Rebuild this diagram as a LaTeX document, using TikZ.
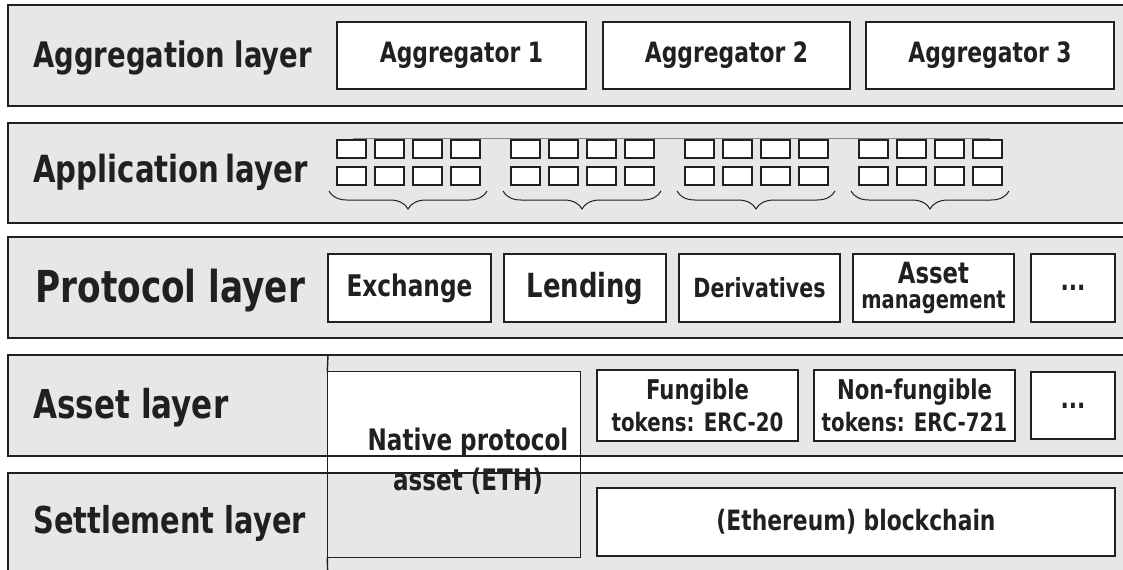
\documentclass[tikz,border=0pt]{standalone}
\usepackage{fontspec}
\setmainfont{DejaVu Sans}[FakeStretch=0.78]
\usetikzlibrary{calc,decorations.pathreplacing,positioning}
\definecolor{bandGray}{RGB}{230,231,232}
\definecolor{ink}{RGB}{35,31,32}

\begin{document}
\begin{tikzpicture}[x=0.5pt,y=-0.5pt,
  bandLine/.style={draw=ink,line width=0.7pt},
  box/.style={draw=ink,fill=white,line width=0.7pt,inner sep=0pt,align=center,text=ink},
  boxSize/.style 2 args={minimum width={(#1)*0.5pt},minimum height={(#2)*0.5pt}},
  cell/.style={draw=ink,fill=white,line width=0.6pt,inner sep=0pt,minimum width=14.5pt,minimum height=9pt},
  txt/.style={font=\fontsize{#1}{#1}\selectfont\bfseries},
  layerLabel/.style={anchor=base west,text=ink,inner sep=0pt,txt=#1}]

\useasboundingbox (0,0) rectangle (1123,569);
\clip (0,0) rectangle (1123,569);

% draw the aggregation layer
\fill[bandGray] (8,5) rectangle (1135,106);
\draw[bandLine] (8,5) rectangle (1135,106);
\node[layerLabel=17.6] (aggLabel) at (33,67) {Aggregation layer};
\def\aggregators{1/337/586,2/603/850,3/866/1114}
\foreach \n/\xl/\xr in \aggregators
  \node[box,boxSize={\xr-\xl}{67},txt=14] (agg\n) at ({(\xl+\xr)/2},55.5) {Aggregator \n};

% draw the application layer
\fill[bandGray] (8,123) rectangle (1135,223);
\draw[bandLine] (8,123) rectangle (1135,223);
\node[layerLabel=18.7] (appLabel) at (33,182) {Application\,layer};
\draw[ink!55,line width=0.4pt] (353,138) -- (990,138);
\foreach \g in {0,...,3}
{
  \pgfmathsetmacro\gx{337+174*\g}
  \foreach \c in {0,...,3}
    \foreach \r [count=\ri] in {149,176}
      \node[cell] (cell\g\c\ri) at ({\gx+38*\c+14.5},\r) {};
  \draw[ink,line width=0.5pt,decorate,decoration={brace,mirror,amplitude=9pt}] ({\gx-8},191) -- ({\gx+150},191);
}

% draw the protocol layer
\fill[bandGray] (8,237) rectangle (1135,338);
\draw[bandLine] (8,237) rectangle (1135,338);
\node[layerLabel=22] (protLabel) at (35,302) {Protocol layer};
\def\protocols{exch/328/491/{Exchange}/14.9,
               lend/504/666/{Lending}/16.6,
               deriv/679/840/{Derivatives}/13.2,
               mgmt/853/1014/{{\fontsize{14.6}{12.5}\selectfont Asset}\\management}/12.5,
               more/1031/1115/{...}/14}
\foreach \name/\xl/\xr/\label/\fs in \protocols
  \node[box,boxSize={\xr-\xl}{68},txt=\fs] (\name) at ({(\xl+\xr)/2},288) {\label};

% draw the asset layer (native box sits across asset and settlement)
\fill[bandGray] (8,355) rectangle (1135,456);
\node[box,draw=none,boxSize={252}{185}] (native) at (454,464.5) {};
\def\tokens{fung/597/798/{Fungible}/{tokens: ERC-20},
            nonfung/814/1015/{Non-fungible}/{tokens: ERC-721}}
\foreach \name/\xl/\xr/\first/\second in \tokens
  \node[box,boxSize={\xr-\xl}{71},txt=12.7] (\name) at ({(\xl+\xr)/2},405.5)
    {{\fontsize{13.6}{13.6}\selectfont \first}\\[3.3pt]\second};
\node[box,boxSize={84}{67},txt=14] (moreTok) at (1073,405.5) {...};
\node[layerLabel=19.9] (assetLabel) at (33,418) {Asset layer};

% draw the settlement layer
\fill[bandGray] (8,473) rectangle (1135,590);
\node[layerLabel=18.5] (settleLabel) at (33,533) {Settlement layer};
\node[box,boxSize={518}{68},txt=14] (chain) at (856,522) {(Ethereum) blockchain};

% outlines of the two lower layers
\draw[bandLine] (8,355) rectangle (1135,456);
\draw[bandLine] (8,473) rectangle (1135,590);
\draw[bandLine] (native.north west) rectangle (native.south east);
\draw[bandLine] (328,355) -- (native.north west);
\draw[bandLine] (native.south west) -- (328,590);
\node[align=center,text=ink,txt=14.8] (nativeText) at (468,461) {Native protocol\\[5.2pt]asset (ETH)};

\end{tikzpicture}
\end{document}
